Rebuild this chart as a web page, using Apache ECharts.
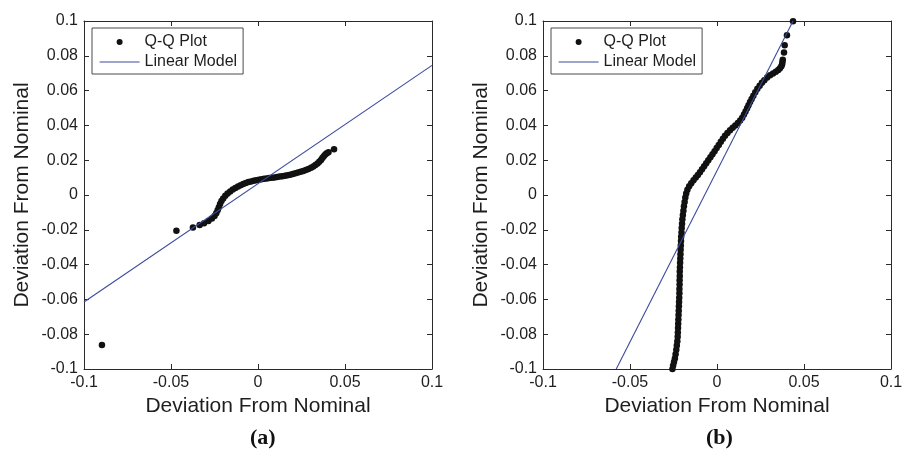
<!DOCTYPE html>
<html>
<head>
<meta charset="utf-8">
<script src="https://cdn.jsdelivr.net/npm/echarts@6/dist/echarts.min.js"></script>
<style>
html,body{margin:0;padding:0;background:#fff;}
#chart{width:903px;height:451px;}
</style>
</head>
<body>
<div id="chart"></div>
<script>
// ---- tick labels ----
const xTickValues = [-0.1, -0.05, 0, 0.05, 0.1];
const xTickLabels = ['-0.1', '-0.05', '0', '0.05', '0.1'];
const yTickValues = [-0.1, -0.08, -0.06, -0.04, -0.02, 0, 0.02, 0.04, 0.06, 0.08, 0.1];
const yTickLabels = ['-0.1', '-0.08', '-0.06', '-0.04', '-0.02', '0', '0.02', '0.04', '0.06', '0.08', '0.1'];
const axisTitle = 'Deviation From Nominal';
const panelLabels = ['(a)', '(b)'];
const legendNames = ['Q-Q Plot', 'Linear Model'];

// ---- panel (a): Q-Q points ----
const qqA_curve = [
  [-0.0335,-0.0173],[-0.0310,-0.0163],[-0.0285,-0.0150],[-0.0265,-0.0135],[-0.0250,-0.0120],
  [-0.0240,-0.0105],[-0.0232,-0.0088],[-0.0225,-0.0070],[-0.0218,-0.0052],[-0.0210,-0.0035],
  [-0.0200,-0.0020],[-0.0188,-0.0005],[-0.0175,0.0008],[-0.0160,0.0020],[-0.0145,0.0031],
  [-0.0130,0.0040],[-0.0115,0.0049],[-0.0100,0.0056],[-0.0085,0.0063],[-0.0070,0.0069],
  [-0.0055,0.0074],[-0.0040,0.0078],[-0.0025,0.0082],[-0.0010,0.0085],[0.0005,0.0088],
  [0.0020,0.0090],[0.0035,0.0093],[0.0050,0.0095],[0.0065,0.0097],[0.0080,0.0099],
  [0.0095,0.0101],[0.0110,0.0103],[0.0125,0.0106],[0.0140,0.0108],[0.0155,0.0111],
  [0.0170,0.0114],[0.0185,0.0117],[0.0200,0.0121],[0.0215,0.0125],[0.0230,0.0129],
  [0.0245,0.0133],[0.0260,0.0138],[0.0275,0.0143],[0.0290,0.0150],[0.0305,0.0157],
  [0.0318,0.0164],[0.0330,0.0172],[0.0342,0.0181],[0.0352,0.0191],[0.0362,0.0201],
  [0.0370,0.0212],[0.0378,0.0223],[0.0387,0.0233],[0.0395,0.0240],[0.0405,0.0246]
];
const qqA_isolated = [[0.0437,0.0263],[-0.0374,-0.0187],[-0.0469,-0.0206],[-0.0897,-0.0862]];
const linearA = [[-0.1,-0.0615],[0.1,0.0745]];

// ---- panel (b): Q-Q points ----
const qqB_curve = [
  [-0.0256,-0.1000],[-0.0252,-0.0980],[-0.0247,-0.0960],[-0.0242,-0.0940],[-0.0238,-0.0915],
  [-0.0234,-0.0890],[-0.0231,-0.0865],[-0.0228,-0.0840],[-0.0226,-0.0815],[-0.0225,-0.0790],
  [-0.0224,-0.0765],[-0.0223,-0.0740],[-0.0222,-0.0715],[-0.0221,-0.0690],[-0.0220,-0.0665],
  [-0.0219,-0.0640],[-0.0218,-0.0615],[-0.0217,-0.0590],[-0.0216,-0.0565],[-0.0216,-0.0540],
  [-0.0215,-0.0515],[-0.0215,-0.0490],[-0.0214,-0.0465],[-0.0214,-0.0440],[-0.0213,-0.0415],
  [-0.0212,-0.0390],[-0.0211,-0.0365],[-0.0210,-0.0340],[-0.0209,-0.0315],[-0.0208,-0.0290],
  [-0.0207,-0.0265],[-0.0206,-0.0240],[-0.0204,-0.0215],[-0.0203,-0.0190],[-0.0201,-0.0165],
  [-0.0199,-0.0140],[-0.0196,-0.0115],[-0.0193,-0.0090],[-0.0190,-0.0065],[-0.0186,-0.0040],
  [-0.0182,-0.0015],[-0.0177,0.0008],[-0.0170,0.0030],[-0.0160,0.0050],[-0.0148,0.0068],
  [-0.0135,0.0085],[-0.0122,0.0100],[-0.0110,0.0115],[-0.0098,0.0131],[-0.0086,0.0148],
  [-0.0074,0.0165],[-0.0062,0.0182],[-0.0050,0.0200],[-0.0038,0.0217],[-0.0026,0.0234],
  [-0.0014,0.0252],[-0.0002,0.0270],[0.0010,0.0288],[0.0022,0.0306],[0.0034,0.0323],
  [0.0046,0.0340],[0.0060,0.0356],[0.0075,0.0372],[0.0090,0.0386],[0.0105,0.0400],
  [0.0120,0.0414],[0.0133,0.0428],[0.0145,0.0444],[0.0155,0.0462],[0.0164,0.0480],
  [0.0173,0.0498],[0.0181,0.0516],[0.0190,0.0534],[0.0199,0.0552],[0.0209,0.0570],
  [0.0220,0.0590],[0.0232,0.0610],[0.0245,0.0628],[0.0258,0.0645],[0.0272,0.0660],
  [0.0288,0.0675],[0.0305,0.0688],[0.0322,0.0698],[0.0338,0.0708],[0.0352,0.0718],
  [0.0362,0.0728],[0.0370,0.0740],[0.0374,0.0752],[0.0376,0.0765],[0.0378,0.0778]
];
const qqB_isolated = [[0.0385,0.0819],[0.0389,0.0861],[0.0402,0.0918],[0.0437,0.0998]];
const linearB = [[-0.0579,-0.1],[0.0437,0.1]];

// ---- build chart ----
const FONT = "'Liberation Sans', Arial, sans-serif";
const TXT = '#1e1e1e';
const AX = '#2a2a2a';
const DOT = '#111111';
const LINE = '#3c4b9c';

function nearestLabel(v, vals, labels) {
  let best = 0, bd = Infinity;
  vals.forEach((t, i) => { const d = Math.abs(t - v); if (d < bd) { bd = d; best = i; } });
  return labels[best];
}

const grids = [
  {left: 84, top: 21, width: 348, height: 348, outerBoundsMode: 'none'},
  {left: 543, top: 21, width: 348, height: 348, outerBoundsMode: 'none'}
];

const xAxes = [], yAxes = [];
[0, 1].forEach(g => {
  const tick = {show: true, inside: true, length: 5, lineStyle: {color: AX, width: 1}};
  xAxes.push({
    gridIndex: g, type: 'value', position: 'bottom', min: -0.1, max: 0.1, interval: 0.05,
    axisLine: {show: true, onZero: false, lineStyle: {color: AX, width: 1}},
    axisTick: tick, splitLine: {show: false},
    axisLabel: {show: true, margin: 6, fontSize: 16, color: TXT, fontFamily: FONT,
      showMinLabel: true, showMaxLabel: true,
      formatter: v => nearestLabel(v, xTickValues, xTickLabels)},
    name: axisTitle, nameLocation: 'middle', nameGap: 36,
    nameTextStyle: {fontSize: 21, color: TXT, fontFamily: FONT, verticalAlign: 'middle'}
  });
  xAxes.push({
    gridIndex: g, type: 'value', position: 'top', min: -0.1, max: 0.1, interval: 0.05,
    axisLine: {show: true, onZero: false, lineStyle: {color: AX, width: 1}},
    axisTick: tick, axisLabel: {show: false}, splitLine: {show: false}
  });
  yAxes.push({
    gridIndex: g, type: 'value', position: 'left', min: -0.1, max: 0.1, interval: 0.02,
    axisLine: {show: true, onZero: false, lineStyle: {color: AX, width: 1}},
    axisTick: tick, splitLine: {show: false},
    axisLabel: {show: true, margin: 6, fontSize: 16, color: TXT, fontFamily: FONT,
      showMinLabel: true, showMaxLabel: true,
      formatter: v => nearestLabel(v, yTickValues, yTickLabels)},
    name: axisTitle, nameLocation: 'middle', nameGap: 62, nameRotate: 90,
    nameTextStyle: {fontSize: 21, color: TXT, fontFamily: FONT, verticalAlign: 'middle'}
  });
  yAxes.push({
    gridIndex: g, type: 'value', position: 'right', min: -0.1, max: 0.1, interval: 0.02,
    axisLine: {show: true, onZero: false, lineStyle: {color: AX, width: 1}},
    axisTick: tick, axisLabel: {show: false}, splitLine: {show: false}
  });
});

function qqSeries(g, curve, isolated) {
  return {
    type: 'scatter', name: legendNames[0], xAxisIndex: g * 2, yAxisIndex: g * 2,
    data: curve.concat(isolated), symbol: 'circle', symbolSize: 6.5,
    itemStyle: {color: DOT, opacity: 1}, silent: true, z: 2
  };
}
function lineSeries(g, pts) {
  return {
    type: 'line', name: legendNames[1], xAxisIndex: g * 2, yAxisIndex: g * 2,
    data: pts, symbol: 'none', showSymbol: false,
    lineStyle: {color: LINE, width: 1.1}, itemStyle: {color: LINE}, silent: true, z: 3
  };
}

function legendFor(left) {
  return {
    show: true, orient: 'vertical', left: left, top: 28,
    padding: [6, 6, 4, 7], itemGap: 4, itemWidth: 40, itemHeight: 6,
    borderColor: '#4a4a4a', borderWidth: 1, backgroundColor: '#fff',
    selectedMode: false,
    textStyle: {fontSize: 16, color: TXT, fontFamily: FONT, lineHeight: 16},
    data: [
      {name: legendNames[0], icon: 'circle', itemStyle: {color: DOT}},
      {name: legendNames[1], itemStyle: {opacity: 0}, lineStyle: {color: LINE, width: 1.2, opacity: 1}}
    ]
  };
}

const chart = echarts.init(document.getElementById('chart'), null, {renderer: 'canvas'});
chart.setOption({
  animation: false,
  backgroundColor: '#ffffff',
  grid: grids,
  xAxis: xAxes,
  yAxis: yAxes,
  legend: [legendFor(92), legendFor(551)],
  series: [
    qqSeries(0, qqA_curve, qqA_isolated), lineSeries(0, linearA),
    qqSeries(1, qqB_curve, qqB_isolated), lineSeries(1, linearB)
  ],
  graphic: [
    {type: 'text', left: 250, top: 427, style: {text: panelLabels[0], font: "bold 22px 'Liberation Serif', 'Times New Roman', serif", fill: '#111'}},
    {type: 'text', left: 706, top: 427, style: {text: panelLabels[1], font: "bold 22px 'Liberation Serif', 'Times New Roman', serif", fill: '#111'}}
  ]
});
</script>
</body>
</html>
